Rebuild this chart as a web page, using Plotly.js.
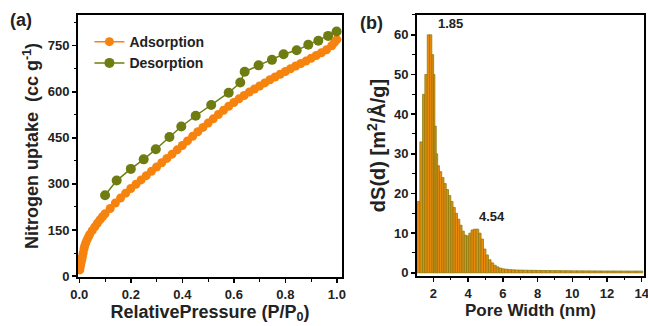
<!DOCTYPE html>
<html><head><meta charset="utf-8">
<script src="https://cdn.plot.ly/plotly-3.0.1.min.js"></script>
<style>html,body{margin:0;padding:0;background:#fff}#chart{width:648px;height:326px}</style>
</head><body><div id="chart"></div>
<script>
// Panel (a): N2 isotherm
const adsP = [0.002,0.004,0.006,0.008,0.01,0.012,0.015,0.018,0.021,0.025,0.03,0.035,0.04,0.05,0.06,0.07,0.08,0.09,0.10,0.12,0.14,0.16,0.18,0.20,0.22,0.24,0.26,0.28,0.30,0.32,0.34,0.36,0.38,0.40,0.42,0.44,0.46,0.48,0.50,0.52,0.54,0.56,0.58,0.60,0.62,0.64,0.66,0.68,0.70,0.72,0.74,0.76,0.78,0.80,0.82,0.84,0.86,0.88,0.90,0.92,0.94,0.96,0.98,0.99,1.0];
const adsV = [20,30,40,48,56,64,75,88,98,108,118,127,135,148,160,172,183,193,203,220,238,254,270,285,299,313,327,341,355,369,383,397,411,425,440,455,470,484,498,512,526,540,553,565,577,588,599,609,619,629,639,648,657,666,675,684,692,700,709,718,727,737,750,760,770];
const desP = [0.1,0.145,0.2,0.25,0.297,0.35,0.396,0.452,0.512,0.58,0.625,0.642,0.696,0.748,0.793,0.844,0.889,0.928,0.966,0.999];
const desV = [263,311,349,380,413,453,487,522,557,597,630,665,686,704,722,735,753,766,782,796];
const isoXTicks = [0,0.2,0.4,0.6,0.8,1.0];
const isoYTicks = [0,150,300,450,600,750];

// Panel (b): pore size distribution
const poreW = [1.15,1.3,1.45,1.58,1.72,1.85,1.97,2.05,2.13,2.21,2.3,2.42,2.55,2.68,2.81,2.94,3.07,3.2,3.33,3.46,3.59,3.72,3.85,3.98,4.11,4.24,4.38,4.54,4.68,4.82,4.96,5.1,5.25,5.4,5.55,5.7,5.86,6.02,6.2,6.4,6.6,6.82,7.05,7.3,7.55,7.8,8.06,8.33,8.6,8.88,9.17,9.47,9.78,10.1,10.43,10.77,11.12,11.48,11.85,12.23,12.62,13.02,13.43,13.85];
const dS = [18,33,45,50,60,60,55,50,37,30,27,25.5,24,22.5,21,19.5,18,16.5,15,13.5,12,10.5,9.5,9.3,10,10.8,11,11,10,8.5,6,4.5,3.3,2.5,1.9,1.5,1.2,1.0,0.9,0.8,0.75,0.7,0.68,0.65,0.63,0.62,0.6,0.58,0.57,0.55,0.55,0.53,0.52,0.5,0.5,0.49,0.48,0.47,0.46,0.46,0.45,0.45,0.44,0.44];
const psdXTicks = [2,4,6,8,10,12,14];
const psdYTicks = [0,10,20,30,40,50,60];
const peakLabels = ['1.85','4.54'];

const widths = poreW.map((x,i)=>{
  const a = i>0 ? poreW[i-1] : x-(poreW[1]-poreW[0]);
  const b = i<poreW.length-1 ? poreW[i+1] : x+(x-poreW[i-1]);
  return (b-a)/2;
});

const ORANGE = '#F7830F', OLIVE = '#6E7C12';
const F = 'Arial, Liberation Sans, sans-serif';
const tf = (s)=>({family:F,size:s,color:'#222',weight:'bold'});

const traces = [
  {x: adsP, y: adsV, name: 'Adsorption', type:'scatter', mode:'lines+markers',
   line:{color:ORANGE,width:1.5}, marker:{color:ORANGE,size:9,symbol:'circle'}, xaxis:'x', yaxis:'y'},
  {x: desP, y: desV, name: 'Desorption', type:'scatter', mode:'lines+markers',
   line:{color:OLIVE,width:1.5}, marker:{color:OLIVE,size:10,symbol:'circle'}, xaxis:'x', yaxis:'y'},
  {x: poreW, y: dS, width: widths, type:'bar', showlegend:false,
   marker:{color:'#EC8A0C', line:{color:'#8C7D10', width:0.8}}, xaxis:'x2', yaxis:'y2'}
];

const axBase = {showline:true, linecolor:'#000', linewidth:2, mirror:true, ticks:'outside', ticklen:4, tickwidth:1.5, tickcolor:'#000',
  showgrid:false, zeroline:false, tickfont:tf(13), ticklabeloverflow:'allow'};
const minorT = (d)=>({dtick:d, ticks:'outside', ticklen:2.5, tickcolor:'#000', tickwidth:1});

const layout = {
  width:648, height:326, margin:{l:0,r:0,t:0,b:0}, paper_bgcolor:'#fff', plot_bgcolor:'#fff',
  showlegend:true, bargap:0,
  legend:{x:0.138, y:0.92, xanchor:'left', yanchor:'top', bgcolor:'rgba(0,0,0,0)', font:tf(14), tracegroupgap:0, itemwidth:30},
  xaxis: Object.assign({}, axBase, {domain:[0.1204,0.5278], range:[-0.005,1.02], tickvals:isoXTicks, ticktext:isoXTicks.map(v=>v.toFixed(1)),
     minor:minorT(0.1), title:{text:'RelativePressure (P/P<sub>0</sub>)', standoff:4, font:tf(18)}, anchor:'y'}),
  yaxis: Object.assign({}, axBase, {domain:[0.1503,0.954], range:[-3,850], tickvals:isoYTicks,
     minor:minorT(75), title:{text:'Nitrogen uptake  (cc g<sup>-1</sup>)', standoff:4, font:tf(18)}, anchor:'x'}),
  xaxis2: Object.assign({}, axBase, {domain:[0.6435,0.9938], range:[1.06,14.13], tickvals:psdXTicks,
     minor:minorT(1), title:{text:'Pore Width (nm)', standoff:4, font:tf(17)}, anchor:'y2'}),
  yaxis2: Object.assign({}, axBase, {domain:[0.1534,0.954], range:[-0.8,65], tickvals:psdYTicks,
     minor:minorT(5), title:{text:'dS(d) [m<sup>2</sup>/Å/g]', standoff:3, font:tf(20)}, anchor:'x2'}),
  annotations:[
    {text:'(a)', xref:'paper', yref:'paper', x:0.012, y:0.975, xanchor:'left', yanchor:'top', showarrow:false, font:tf(18)},
    {text:'(b)', xref:'paper', yref:'paper', x:0.553, y:0.965, xanchor:'left', yanchor:'top', showarrow:false, font:tf(18)},
    {text:peakLabels[0], xref:'x2', yref:'y2', x:poreW[5], y:dS[5], xanchor:'left', yanchor:'bottom', xshift:5, yshift:2, showarrow:false, font:tf(13)},
    {text:peakLabels[1], xref:'x2', yref:'y2', x:poreW[27], y:dS[27], xanchor:'left', yanchor:'bottom', xshift:0, yshift:3, showarrow:false, font:tf(13)}
  ]
};

Plotly.newPlot('chart', traces, layout, {staticPlot:true, displayModeBar:false});
</script>
</body></html>
